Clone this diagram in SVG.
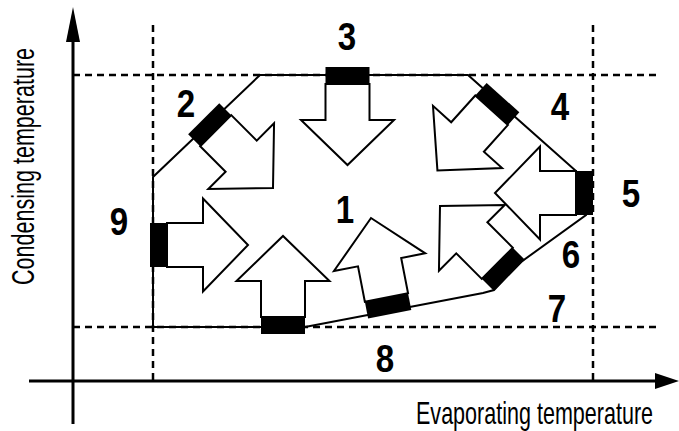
<svg xmlns="http://www.w3.org/2000/svg" xmlns:xlink="http://www.w3.org/1999/xlink" width="679" height="431" viewBox="0 0 679 431">
<style>
.axis{stroke:#000;stroke-width:3;fill:none}
.dash{stroke:#000;stroke-width:2.5;stroke-dasharray:7 5;fill:none}
.edge{stroke:#000;stroke-width:2;fill:none;stroke-linejoin:miter}
.arr{fill:#fff;stroke:#000;stroke-width:2;stroke-linejoin:miter}
.bar{fill:#000}
.num{font-family:"Liberation Sans Narrow","Liberation Sans",Arial,sans-serif;font-weight:bold;font-size:39px;text-anchor:middle;fill:#000}
.lab{font-family:"Liberation Sans Narrow","Liberation Sans",Arial,sans-serif;font-size:31px;fill:#000}
</style>
<defs>
<g id="unit">
<polygon class="arr" points="-22,-17 -22,-53 -46.5,-53 0,-98 46.5,-53 22,-53 22,-17"/>
<rect class="bar" x="-22" y="-17" width="44" height="17"/>
</g>
</defs>
<rect width="679" height="431" fill="#fff"/>
<g id="grid">
<line class="dash" x1="73" y1="75" x2="660" y2="75"/>
<line class="dash" x1="73" y1="327" x2="660" y2="327"/>
<line class="dash" x1="153" y1="25" x2="153" y2="381"/>
<line class="dash" x1="593" y1="25" x2="593" y2="381"/>
</g>
<g id="axes">
<line class="axis" x1="73" y1="40" x2="73" y2="424"/>
<polygon points="73,7 66,42 80,42" fill="#000"/>
<line class="axis" x1="29" y1="381" x2="657" y2="381"/>
<polygon points="679,381 655,373 655,389" fill="#000"/>
<text class="lab" transform="translate(416,424) scale(0.695,1)">Evaporating temperature</text>
<text class="lab" transform="translate(34,285) rotate(-90) scale(0.695,1)">Condensing temperature</text>
</g>
<g id="connectors">
<polygon class="edge" points="153,327 153,177 260,75 468,75 576,171 586,215 521,262 494,290 483,293 305,327"/>
</g>
<g id="node-3"><use xlink:href="#unit" transform="translate(347.5,67) rotate(180)"/></g>
<g id="node-2"><use xlink:href="#unit" transform="translate(203.7,118.7) rotate(135)"/></g>
<g id="node-4"><use xlink:href="#unit" transform="translate(503,97.6) rotate(-138)"/></g>
<g id="node-9"><use xlink:href="#unit" transform="translate(150,245) rotate(90)"/></g>
<g id="node-8"><use xlink:href="#unit" transform="translate(283,334)"/></g>
<g id="node-7"><use xlink:href="#unit" transform="translate(389.7,314.2) rotate(-11)"/></g>
<g id="node-6"><use xlink:href="#unit" transform="translate(509.3,275.3) rotate(-45)"/></g>
<g id="node-5"><use xlink:href="#unit" transform="translate(593,193) rotate(-90)"/></g>
<g id="labels">
<text class="num" transform="translate(345,223) scale(0.85,1)">1</text>
<text class="num" transform="translate(186,117) scale(0.85,1)">2</text>
<text class="num" transform="translate(347,50) scale(0.85,1)">3</text>
<text class="num" transform="translate(560,120) scale(0.85,1)">4</text>
<text class="num" transform="translate(631,207) scale(0.85,1)">5</text>
<text class="num" transform="translate(571,268) scale(0.85,1)">6</text>
<text class="num" transform="translate(557,322) scale(0.85,1)">7</text>
<text class="num" transform="translate(385,372) scale(0.85,1)">8</text>
<text class="num" transform="translate(119,235) scale(0.85,1)">9</text>
</g>
</svg>
